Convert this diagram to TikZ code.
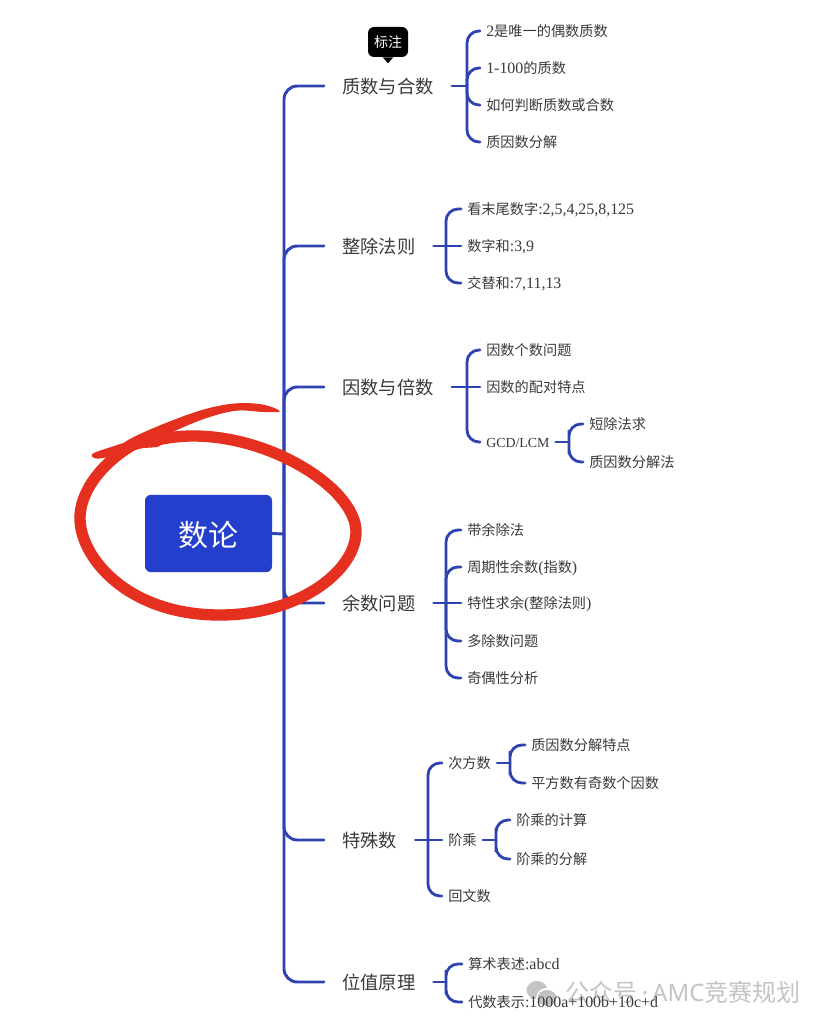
\documentclass[tikz,border=0pt]{standalone}
\usepackage{fontspec}
\setmainfont{Liberation Serif}[Scale=1.12]
\newfontfamily\cjk{Noto Sans CJK SC}
\newfontfamily\wmfont{Noto Sans}
\newfontfamily\capsfont{Liberation Serif}
\newcommand{\zh}[1]{{\cjk #1}}
\definecolor{linkblue}{HTML}{2F43B0}
\definecolor{rootblue}{HTML}{233FCB}
\definecolor{inkgrey}{HTML}{3A3A3A}
\definecolor{markred}{HTML}{E5301F}
\definecolor{wmgrey}{HTML}{C4C4C4}
\tikzset{
  link/.style={draw=linkblue,line width=2.2pt,rounded corners=10pt,line cap=round},
  sublink/.style={draw=linkblue,line width=2.1pt,rounded corners=9pt,line cap=round},
  branchnode/.style={anchor=west,inner ysep=0pt,inner xsep=13.5pt,text height=13pt,text depth=2pt,font=\fontsize{13.7pt}{15pt}\selectfont,text=inkgrey},
  leafnode/.style={anchor=west,inner ysep=0pt,inner xsep=4.5pt,text height=10.6pt,text depth=1.8pt,font=\fontsize{10.65pt}{12pt}\selectfont,text=inkgrey},
}
\begin{document}
\begin{tikzpicture}[x=0.75pt,y=-0.75pt]
\useasboundingbox[fill=white] (0,0) rectangle (827,1024);
% watermark, under the text
\fill[wmgrey] (537,990) ellipse (10.5 and 9);
\fill[white] (547,998) ellipse (11 and 10);
\fill[wmgrey] (547,998) ellipse (9.5 and 8);
\node[anchor=west,inner sep=0pt,text=wmgrey,font=\fontsize{18pt}{20pt}\selectfont] (wm) at (565,992) {\zh{公众号}\,\wmfont{·\,AMC}\zh{竞赛规划}};
% root
\node[fill=rootblue,rounded corners=4.5pt,minimum width=95.25pt,minimum height=58pt,inner sep=0pt,text=white,text height=21pt,text depth=2pt,font=\fontsize{22.5pt}{24pt}\selectfont] (root) at (208.5,533.5) {\zh{数论}};
\coordinate (hub) at (284,534);
% branches
\node[branchnode] (b1) at (324,86) {\zh{质数与合数}};
\node[branchnode] (b2) at (324,246) {\zh{整除法则}};
\node[branchnode] (b3) at (324,387) {\zh{因数与倍数}};
\node[branchnode] (b4) at (324,603) {\zh{余数问题}};
\node[branchnode] (b5) at (324,840) {\zh{特殊数}};
\node[branchnode] (b6) at (324,982) {\zh{位值原理}};
\draw[link] (root.east) -- (hub);
\draw[link] (b1.west) -| (hub) |- (b6.west);
\foreach \n in {b2,b3,b4,b5} \draw[link] (\n.west) -| (hub);
% tooltip
\node[fill=black,rounded corners=4.5pt,minimum width=30pt,minimum height=22.5pt,inner sep=0pt,text=white,font=\fontsize{10.5pt}{12pt}\selectfont] (tip) at (388,42) {\zh{标注}};
\fill[black] ([xshift=-4pt]tip.south) -- ([yshift=-4.5pt]tip.south) -- ([xshift=4pt]tip.south) -- cycle;
% group 1
\coordinate (s1) at (467,86);
\node[leafnode] (a1) at (480,31) {2\zh{是唯一的偶数质数}};
\node[leafnode] (a2) at (480,68) {1-100\zh{的质数}};
\node[leafnode] (a3) at (480,105) {\zh{如何判断质数或合数}};
\node[leafnode] (a4) at (480,142) {\zh{质因数分解}};
\draw[sublink] (b1.east) -- (s1);
\draw[sublink] (a1.west) -| (s1) |- (a4.west);
\draw[sublink] (a2.west) -| (s1);
\draw[sublink] (a3.west) -| (s1);
% group 2
\coordinate (s2) at (446,246);
\node[leafnode] (c1) at (461,209) {\zh{看末尾数字}:2,5,4,25,8,125};
\node[leafnode] (c2) at (461,246) {\zh{数字和}:3,9};
\node[leafnode] (c3) at (461,283) {\zh{交替和}:7,11,13};
\draw[sublink] (b2.east) -- (s2);
\draw[sublink] (c1.west) -| (s2) |- (c3.west);
\draw[sublink] (c2.west) -- (s2);
% group 3
\coordinate (s3) at (467,387);
\node[leafnode] (d1) at (480,350) {\zh{因数个数问题}};
\node[leafnode] (d2) at (480,387) {\zh{因数的配对特点}};
\node[leafnode] (d3) at (480,442) {\capsfont\fontsize{10.4pt}{12pt}\selectfont GCD/LCM};
\coordinate (s3b) at (569,442);
\node[leafnode] (d4) at (583,424) {\zh{短除法求}};
\node[leafnode] (d5) at (583,462) {\zh{质因数分解法}};
\draw[sublink] (b3.east) -- (s3);
\draw[sublink] (d1.west) -| (s3) |- (d3.west);
\draw[sublink] (d2.west) -- (s3);
\draw[sublink] (d3.east) -- (s3b);
\draw[sublink] (d4.west) -| (s3b) |- (d5.west);
% group 4
\coordinate (s4) at (446,603);
\node[leafnode] (e1) at (461,530) {\zh{带余除法}};
\node[leafnode] (e2) at (461,567) {\zh{周期性余数}(\zh{指数})};
\node[leafnode] (e3) at (461,603) {\zh{特性求余}(\zh{整除法则})};
\node[leafnode] (e4) at (461,641) {\zh{多除数问题}};
\node[leafnode] (e5) at (461,678) {\zh{奇偶性分析}};
\draw[sublink] (b4.east) -- (s4);
\draw[sublink] (e1.west) -| (s4) |- (e5.west);
\draw[sublink] (e2.west) -| (s4);
\draw[sublink] (e3.west) -- (s4);
\draw[sublink] (e4.west) -| (s4);
% group 5
\coordinate (s5) at (428,840);
\node[leafnode] (f1) at (442,763) {\zh{次方数}};
\node[leafnode] (f2) at (442,840) {\zh{阶乘}};
\node[leafnode] (f3) at (442,896) {\zh{回文数}};
\coordinate (s5a) at (510,763);
\node[leafnode] (g1) at (525,745) {\zh{质因数分解特点}};
\node[leafnode] (g2) at (525,783) {\zh{平方数有奇数个因数}};
\coordinate (s5b) at (496,840);
\node[leafnode] (h1) at (510,820) {\zh{阶乘的计算}};
\node[leafnode] (h2) at (510,859) {\zh{阶乘的分解}};
\draw[sublink] (b5.east) -- (s5);
\draw[sublink] (f1.west) -| (s5) |- (f3.west);
\draw[sublink] (f2.west) -- (s5);
\draw[sublink] (f1.east) -- (s5a);
\draw[sublink] (g1.west) -| (s5a) |- (g2.west);
\draw[sublink] (f2.east) -- (s5b);
\draw[sublink] (h1.west) -| (s5b) |- (h2.west);
% group 6
\coordinate (s6) at (446,982);
\node[leafnode] (k1) at (462,964) {\zh{算术表述}:abcd};
\node[leafnode] (k2) at (462,1002) {\zh{代数表示}:1000a+100b+10c+d};
\draw[sublink] (b6.east) -- (s6);
\draw[sublink] (k1.west) -| (s6) |- (k2.west);
% hand-drawn red ring
\begin{scope}[shift={(60,390)},x=0.25pt,y=-0.25pt]
\draw[markred,line width=8.5pt,line cap=round,line join=round] (300,128) .. controls (170,170) and (60,280) .. (60,385) .. controls (60,500) and (200,675) .. (480,675) .. controls (720,675) and (888,540) .. (888,425) .. controls (888,300) and (640,138) .. (400,138) .. controls (350,138) and (310,145) .. (270,155);
\fill[markred] plot[smooth cycle,tension=0.6] coordinates {(660,64) (610,44) (530,40) (440,56) (340,90) (240,132) (190,160) (170,190) (240,175) (340,125) (440,84) (530,62) (610,66)};
\fill[markred] plot[smooth cycle,tension=0.6] coordinates {(97,192) (150,172) (240,145) (300,140) (300,168) (240,176) (170,195) (112,206)};
\end{scope}
\end{tikzpicture}
\end{document}
